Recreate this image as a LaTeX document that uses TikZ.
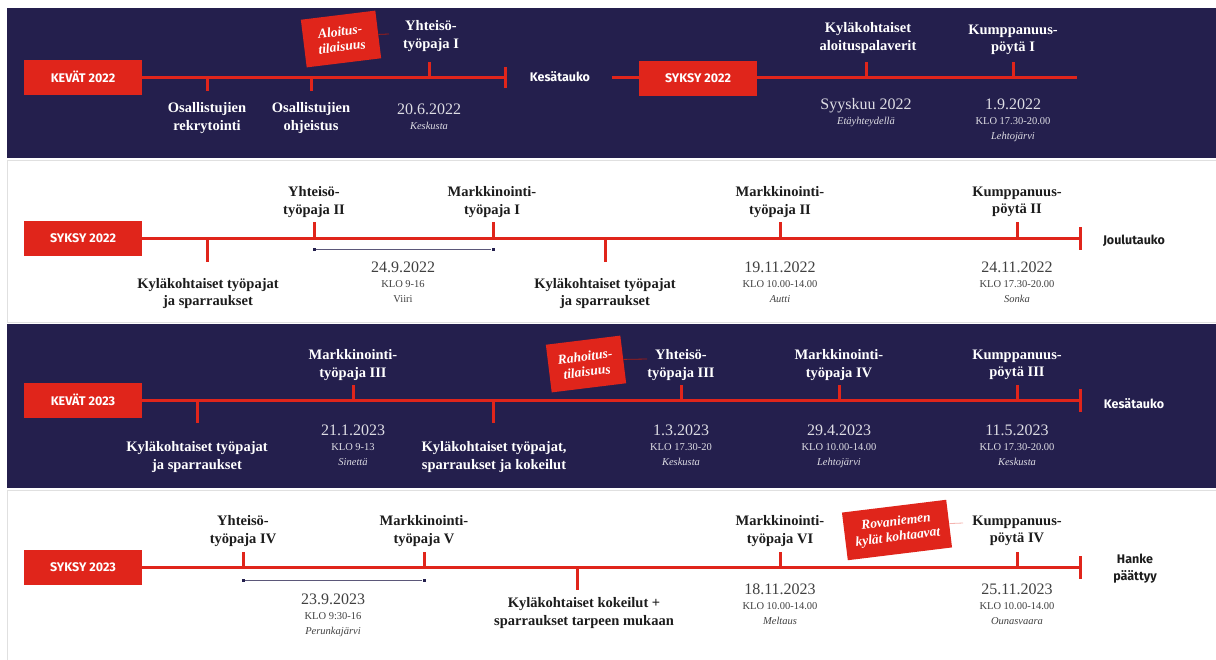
\documentclass[tikz,border=0pt]{standalone}
\usepackage{fontspec}
\setmainfont{Liberation Serif}
\newfontfamily\labelsans{Fira Sans}
\usetikzlibrary{positioning,calc}
\definecolor{navy}{HTML}{241F4D}
\definecolor{tlred}{HTML}{E0251B}
\definecolor{ink}{HTML}{1C1C1C}
\newcommand{\bigdate}{\fontsize{16}{15}\selectfont}

\begin{document}
\begin{tikzpicture}
[x=1pt,y=-1pt,
 sheet/.style = {fill=white, draw=black!12, line width=0.8pt},
 axis/.style = {draw=tlred, line width=3pt},
 tick/.style = {draw=tlred, line width=3pt},
 season/.style = {fill=tlred, text=white, minimum width=118pt, minimum height=35pt, inner sep=0pt,
   font=\labelsans\bfseries\fontsize{12.5}{14}\selectfont},
 pause/.style = {align=center, text=ink, font=\labelsans\bfseries\fontsize{12.5}{17}\selectfont},
 event/.style = {align=center, inner sep=0pt, text=ink, font=\bfseries\fontsize{14.5}{17.5}\selectfont},
 info/.style = {align=center, inner sep=0pt, anchor=north, text=black!75, font=\fontsize{10.5}{15}\selectfont},
 light/.style = {text=white},
 lightinfo/.style = {text=white!85!navy},
 flag/.style = {fill=tlred, text=white, rotate=7, minimum width=75pt, minimum height=48pt, inner sep=0pt,
   align=center, font=\bfseries\itshape\fontsize{13.5}{15.5}\selectfont},
 link/.style = {draw=tlred!75!black, line width=0.8pt},
 span/.style = {draw=navy!75, line width=0.9pt},
 dot/.style = {fill=navy, minimum size=3pt, inner sep=0pt},
]
\useasboundingbox (0,0) rectangle (1216,659);

% bands
\fill[white] (0,0) rectangle (1216,659);
\fill[navy] (7,8) rectangle (1216,158);
\draw[sheet] (7,160) rectangle (1217,322);
\fill[navy] (7,324) rectangle (1216,488);
\draw[sheet] (7,490) rectangle (1217,660);

% kevat 2022
\node (s1) at (83,77) [season] {KEVÄT 2022};
\coordinate (e1) at (505,77);
\draw[axis] (s1.east) -- (e1);
\draw[tick] ([yshift=10pt]e1) -- ([yshift=-11pt]e1);
\foreach \x in {207,311} \draw[tick] (\x,77) -- ++(0,14);
\draw[tick] (429,77) -- ++(0,-15);
\node (rekry) at (207,118) [event,light] {Osallistujien\\rekrytointi};
\node (ohje) at (311,118) [event,light] {Osallistujien\\ohjeistus};
\node (yp1) at (431,36) [event,light] {Yhteisö-\\työpaja I};
\node (d1) at (429,103.6) [info,lightinfo] {{\bigdate 20.6.2022}\\\textit{Keskusta}};
\node (alo) at (341,39) [flag] {Aloitus-\\tilaisuus};
\coordinate (alo-end) at (389,34);
\draw[link] (alo.east) -- (alo-end);
\node (pause1) at (560,77) [pause,light] {Kesätauko};

% syksy 2022, alku
\coordinate (k2) at (612,77);
\coordinate (e2) at (1077,77);
\draw[axis] (k2) -- (e2);
\node (s2) at (698,78) [season] {SYKSY 2022};
\foreach \x in {866,1013} \draw[tick] (\x,77) -- ++(0,-15);
\node (kyl1) at (868,38) [event,light] {Kyläkohtaiset\\aloituspalaverit};
\node (kp1) at (1013,40) [event,light] {Kumppanuus-\\pöytä I};
\node (d2) at (866,98.6) [info,lightinfo] {{\bigdate Syyskuu 2022}\\\textit{Etäyhteydellä}};
\node (d3) at (1013,98.6) [info,lightinfo] {{\bigdate 1.9.2022}\\KLO 17.30-20.00\\\textit{Lehtojärvi}};

% syksy 2022
\node (s3) at (83,238) [season] {SYKSY 2022};
\coordinate (e3) at (1080,238);
\draw[axis] (s3.east) -- (e3);
\draw[tick] ([yshift=11pt]e3) -- ([yshift=-12pt]e3);
\foreach \x in {207,605} \draw[tick] (\x,238) -- ++(0,24);
\foreach \x in {314,493,780,1017} \draw[tick] (\x,238) -- ++(0,-16);
\node (kt1) at (208,293.5) [event] {Kyläkohtaiset työpajat\\ja sparraukset};
\node (yp2) at (314,202) [event] {Yhteisö-\\työpaja II};
\node (mk1) at (492,202) [event] {Markkinointi-\\työpaja I};
\node (sp1a) at (314,249) [dot] {};
\node (sp1b) at (493,249) [dot] {};
\draw[span] (sp1a) -- (sp1b);
\node (d4) at (403,261.6) [info] {{\bigdate 24.9.2022}\\KLO 9-16\\Viiri};
\node (kt2) at (605,293.5) [event] {Kyläkohtaiset työpajat\\ja sparraukset};
\node (mk2) at (780,202) [event] {Markkinointi-\\työpaja II};
\node (d5) at (780,261.6) [info] {{\bigdate 19.11.2022}\\KLO 10.00-14.00\\\textit{Autti}};
\node (kp2) at (1017,202) [event] {Kumppanuus-\\pöytä II};
\node (d6) at (1017,261.6) [info] {{\bigdate 24.11.2022}\\KLO 17.30-20.00\\\textit{Sonka}};
\node (pause2) at (1134,241) [pause] {Joulutauko};

% kevat 2023
\node (s4) at (83,400) [season] {KEVÄT 2023};
\coordinate (e4) at (1080,400);
\draw[axis] (s4.east) -- (e4);
\draw[tick] ([yshift=11pt]e4) -- ([yshift=-12pt]e4);
\foreach \x in {197,493} \draw[tick] (\x,400) -- ++(0,23);
\foreach \x in {353,681,839,1017} \draw[tick] (\x,400) -- ++(0,-15);
\node (kt3) at (197,457) [event,light] {Kyläkohtaiset työpajat\\ja sparraukset};
\node (mk3) at (353,365) [event,light] {Markkinointi-\\työpaja III};
\node (d7) at (353,424.6) [info,lightinfo] {{\bigdate 21.1.2023}\\KLO 9-13\\\textit{Sinettä}};
\node (kt4) at (494,457) [event,light] {Kyläkohtaiset työpajat,\\sparraukset ja kokeilut};
\node (rah) at (586,364) [flag] {Rahoitus-\\tilaisuus};
\node (yp3) at (681,365) [event,light] {Yhteisö-\\työpaja III};
\coordinate (rah-end) at (647,359);
\draw[link] (rah.east) -- (rah-end);
\node (d8) at (681,424.6) [info,lightinfo] {{\bigdate 1.3.2023}\\KLO 17.30-20\\\textit{Keskusta}};
\node (mk4) at (839,365) [event,light] {Markkinointi-\\työpaja IV};
\node (d9) at (839,424.6) [info,lightinfo] {{\bigdate 29.4.2023}\\KLO 10.00-14.00\\\textit{Lehtojärvi}};
\node (kp3) at (1017,365) [event,light] {Kumppanuus-\\pöytä III};
\node (d10) at (1017,424.6) [info,lightinfo] {{\bigdate 11.5.2023}\\KLO 17.30-20.00\\\textit{Keskusta}};
\node (pause3) at (1134,404) [pause,light] {Kesätauko};

% syksy 2023
\node (s5) at (83,567) [season] {SYKSY 2023};
\coordinate (e5) at (1080,567);
\draw[axis] (s5.east) -- (e5);
\draw[tick] ([yshift=11pt]e5) -- ([yshift=-12pt]e5);
\draw[tick] (577,567) -- ++(0,23);
\foreach \x in {243,424,780,1017} \draw[tick] (\x,567) -- ++(0,-15);
\node (yp4) at (243,531) [event] {Yhteisö-\\työpaja IV};
\node (mk5) at (424,531) [event] {Markkinointi-\\työpaja V};
\node (sp2a) at (243,580) [dot] {};
\node (sp2b) at (424,580) [dot] {};
\draw[span] (sp2a) -- (sp2b);
\node (d11) at (333,593.6) [info] {{\bigdate 23.9.2023}\\KLO 9:30-16\\\textit{Perunkajärvi}};
\node (kk) at (584,613) [event] {Kyläkohtaiset kokeilut +\\sparraukset tarpeen mukaan};
\node (mk6) at (780,531) [event] {Markkinointi-\\työpaja VI};
\node (d12) at (780,583.6) [info] {{\bigdate 18.11.2023}\\KLO 10.00-14.00\\\textit{Meltaus}};
\node (rov) at (897,530) [flag,minimum width=105pt] {Rovaniemen\\kylät kohtaavat};
\coordinate (rov-end) at (963,523);
\draw[link,draw=tlred!35] (rov.east) -- (rov-end);
\node (kp4) at (1017,531) [event] {Kumppanuus-\\pöytä IV};
\node (d13) at (1017,583.6) [info] {{\bigdate 25.11.2023}\\KLO 10.00-14.00\\\textit{Ounasvaara}};
\node (pause4) at (1135,569) [pause] {Hanke\\päättyy};

\end{tikzpicture}
\end{document}
